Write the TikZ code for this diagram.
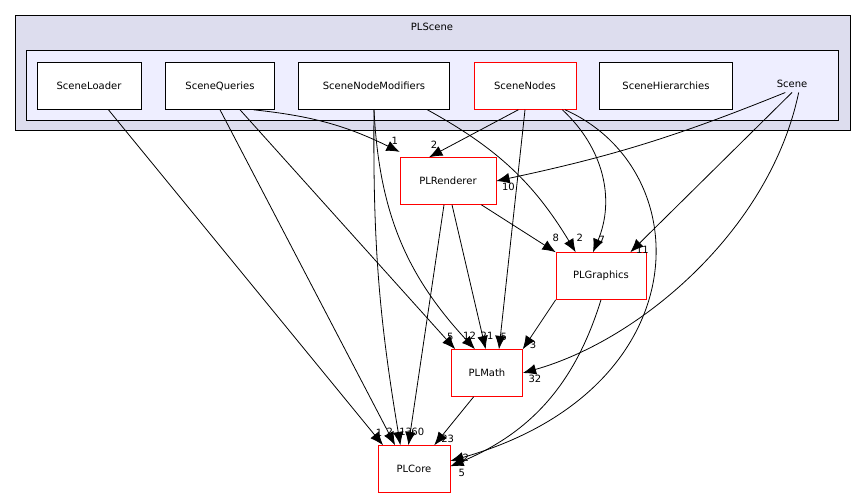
\documentclass[tikz,border=0pt]{standalone}
\usepackage{fontspec}
\setmainfont{DejaVu Sans}
\usetikzlibrary{positioning,arrows.meta}
\definecolor{clOuter}{HTML}{DDDDEE}
\definecolor{clInner}{HTML}{EEEEFF}
\tikzset{
  dir/.style={draw=black, fill=white, minimum height=35.25pt, inner sep=0pt, font=\fontsize{7.5}{9}\selectfont},
  hdr/.style={dir, draw=red},
  dep/.style={-{Latex[length=10pt,width=8pt]}, semithick},
  num/.style={font=\fontsize{7.5}{9}\selectfont, inner sep=1pt}
}
\begin{document}
\begin{tikzpicture}[x=0.75pt, y=-0.75pt]
\useasboundingbox (0,0) rectangle (867,499);

% Clusters:
\draw[fill=clOuter] (15,15) rectangle (850,130);
\node[font=\fontsize{7.5}{9}\selectfont] (lblPLScene) at (432,27) {PLScene};
\draw[fill=clInner] (26,50) rectangle (838,120);
\node[font=\fontsize{7.5}{9}\selectfont] (Scene) at (792,84) {Scene};

% Directories inside Scene:
\node[dir, minimum width=78pt]  (SceneLoader)  at (89,86)  {SceneLoader};
\node[dir, minimum width=81.75pt] (SceneQueries) at (220,86) {SceneQueries};
\node[dir, minimum width=113.25pt] (SceneNodeModifiers) at (374,86) {SceneNodeModifiers};
\node[hdr, minimum width=76.5pt] (SceneNodes)  at (525,86) {SceneNodes};
\node[dir, minimum width=99.75pt] (SceneHierarchies) at (666,86) {SceneHierarchies};

% Outside directories:
\node[hdr, minimum width=72pt]   (PLRenderer) at (448,181) {PLRenderer};
\node[hdr, minimum width=67.5pt] (PLGraphics) at (601,276) {PLGraphics};
\node[hdr, minimum width=53.25pt] (PLMath)    at (487,373) {PLMath};
\node[hdr, minimum width=54pt]   (PLCore)     at (414,469) {PLCore};

% Dependencies:
\draw[dep] (SceneLoader) -- ([xshift=4pt]PLCore.north west) node[num, above, xshift=-3pt, yshift=5pt] {1};
\draw[dep] (SceneQueries.south) -- ([xshift=13pt]PLCore.north west) node[num, above, xshift=-4pt, yshift=6pt] {2};
\draw[dep] ([xshift=15pt]SceneQueries.south) -- ([xshift=3pt]PLMath.north west) node[num, above left, yshift=5pt] {5};
\draw[dep] ([xshift=25pt]SceneQueries.south) to[bend left=10] ([yshift=4pt]PLRenderer.north west) node[num, above left, yshift=4pt] {1};
\draw[dep] (SceneNodeModifiers.south) to[bend right=5] ([xshift=17pt]PLCore.north west) node[num, above, xshift=4pt, yshift=6pt] {13};
\draw[dep] (SceneNodeModifiers.south) to[bend right=20] ([xshift=-9pt]PLMath.north) node[num, above left, xshift=2pt, yshift=6pt] {12};
\draw[dep] ([xshift=40pt]SceneNodeModifiers.south) to[bend left=15] ([xshift=15pt]PLGraphics.north west) node[num, above, xshift=3pt, yshift=7pt] {2};
\draw[dep] ([xshift=-5pt]SceneNodes.south) -- ([xshift=22pt]PLRenderer.north west) node[num, above right, yshift=5pt] {2};
\draw[dep] (SceneNodes.south) -- ([xshift=9pt]PLMath.north) node[num, above right, yshift=5pt] {5};
\draw[dep] ([xshift=28pt]SceneNodes.south) to[bend left=35] ([xshift=-6pt]PLGraphics.north) node[num, above right, xshift=3pt, yshift=5pt] {7};
\draw[dep] ([xshift=30pt]SceneNodes.south) .. controls (700,170) and (700,390) .. ([yshift=6pt]PLCore.east) node[num, above right, xshift=8pt, yshift=-2pt] {2};
\draw[dep] ([xshift=-5pt]Scene.south) to[bend left=5] (PLRenderer.east) node[num, below right, xshift=3pt] {10};
\draw[dep] (Scene.south) -- ([xshift=22pt]PLGraphics.north) node[num, above right, xshift=3pt, yshift=-2pt] {11};
\draw[dep] ([xshift=5pt]Scene.south) .. controls (770,230) and (640,340) .. (PLMath.east) node[num, below right, xshift=3pt] {32};
\draw[dep] ([xshift=25pt]PLRenderer.south) -- (PLGraphics.north west) node[num, above, yshift=7pt] {8};
\draw[dep] ([xshift=3pt]PLRenderer.south) -- ([xshift=-1pt]PLMath.north) node[num, above, xshift=1pt, yshift=6pt] {21};
\draw[dep] ([xshift=-3pt]PLRenderer.south) -- ([xshift=23pt]PLCore.north west) node[num, above right, xshift=1pt, yshift=6pt] {60};
\draw[dep] (PLGraphics.south west) -- (PLMath.north east) node[num, right, xshift=4pt, yshift=3pt] {3};
\draw[dep] (PLGraphics.south) to[bend left=25] ([yshift=2pt]PLCore.east) node[num, below right, xshift=5pt, yshift=-1pt] {5};
\draw[dep] ([xshift=-10pt]PLMath.south) -- ([xshift=-12pt]PLCore.north east) node[num, above right, xshift=4pt, yshift=1pt] {23};
\end{tikzpicture}
\end{document}
